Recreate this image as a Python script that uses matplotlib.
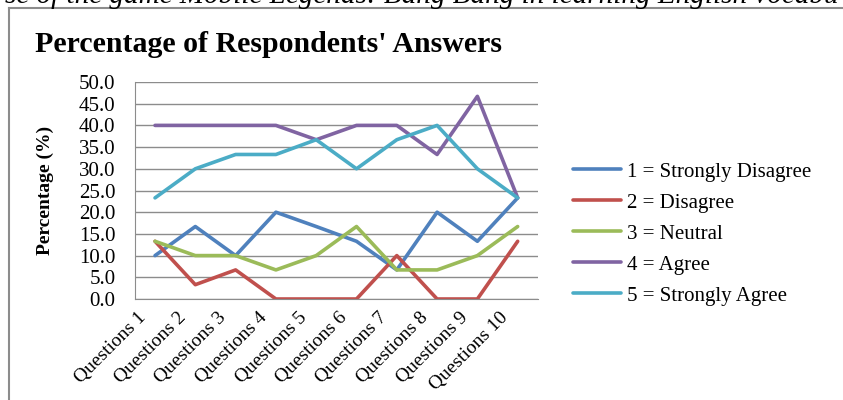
import matplotlib
matplotlib.use("Agg")
import matplotlib.pyplot as plt
import matplotlib.transforms as mtransforms
from matplotlib.lines import Line2D

questions = ["Questions %d" % i for i in range(1, 11)]

strongly_disagree = [10.0, 16.7, 10.0, 20.0, 16.7, 13.3, 6.7, 20.0, 13.3, 23.3]
disagree = [13.3, 3.3, 6.7, 0.0, 0.0, 0.0, 10.0, 0.0, 0.0, 13.3]
neutral = [13.3, 10.0, 10.0, 6.7, 10.0, 16.7, 6.7, 6.7, 10.0, 16.7]
agree = [40.0, 40.0, 40.0, 40.0, 36.7, 40.0, 40.0, 33.3, 46.7, 23.3]
strongly_agree = [23.3, 30.0, 33.3, 33.3, 36.7, 30.0, 36.7, 40.0, 30.0, 23.3]

labels = ["1 = Strongly Disagree", "2 = Disagree", "3 = Neutral",
          "4 = Agree", "5 = Strongly Agree"]
colors = ["#4F81BD", "#C0504D", "#9BBB59", "#8064A2", "#4BACC6"]

plt.rcParams['font.family'] = ['Liberation Serif', 'DejaVu Serif']

fig = plt.figure(figsize=(8.43, 4), dpi=100)
ax = fig.add_axes([0.160, 0.2525, 0.478, 0.5425])

series = [strongly_disagree, disagree, neutral, agree, strongly_agree]
x = list(range(len(questions)))
for vals, lab, col in zip(series, labels, colors):
    ax.plot(x, vals, color=col, lw=2.6, label=lab, solid_capstyle='round')

ax.set_xlim(-0.5, len(questions) - 0.5)
ax.set_ylim(0, 50)
ax.set_yticks(range(0, 51, 5))
ax.set_yticklabels(["%.1f" % v for v in range(0, 51, 5)], fontsize=15)
ax.set_xticks(x)
ax.set_xticklabels(questions, rotation=45, ha='right', va='top',
                   rotation_mode='anchor', fontsize=14)
ax.tick_params(axis='y', length=0, pad=14)
ax.tick_params(axis='x', length=0, pad=7)
shift = mtransforms.ScaledTranslation(-18 / 100, 0, fig.dpi_scale_trans)
for t in ax.get_xticklabels():
    t.set_transform(t.get_transform() + shift)
ax.yaxis.grid(True, color='#8c8c8c', lw=1)
ax.set_axisbelow(True)
for s in ['top', 'right']:
    ax.spines[s].set_visible(False)
for s in ['left', 'bottom']:
    ax.spines[s].set_color('#8c8c8c')
ax.set_ylabel("Percentage (%)", fontsize=14, fontweight='bold')
ax.yaxis.set_label_coords(-0.20, 0.5)

ax.legend(loc='center left', bbox_to_anchor=(1.087, 0.30), frameon=False,
          fontsize=15, handlelength=2.3, handletextpad=0.3, labelspacing=0.55,
          borderpad=0, borderaxespad=0)

fig.text(0.318, 0.87, "Percentage of Respondents' Answers", ha='center',
         va='baseline', fontsize=21.5, fontweight='bold')

fig.text(0.5, 1 - 3 / 400, "se of the game Mobile Legends: Bang Bang in learning English vocabu",
         ha='center', va='baseline', fontsize=21, fontstyle='italic')

fig.add_artist(Line2D([9 / 843, 9 / 843], [0, 1 - 8 / 400], color='#8c8c8c', lw=1.5))
fig.add_artist(Line2D([9 / 843, 1], [1 - 8 / 400, 1 - 8 / 400], color='#8c8c8c', lw=1.5))

fig.savefig("out.png", dpi=100)
